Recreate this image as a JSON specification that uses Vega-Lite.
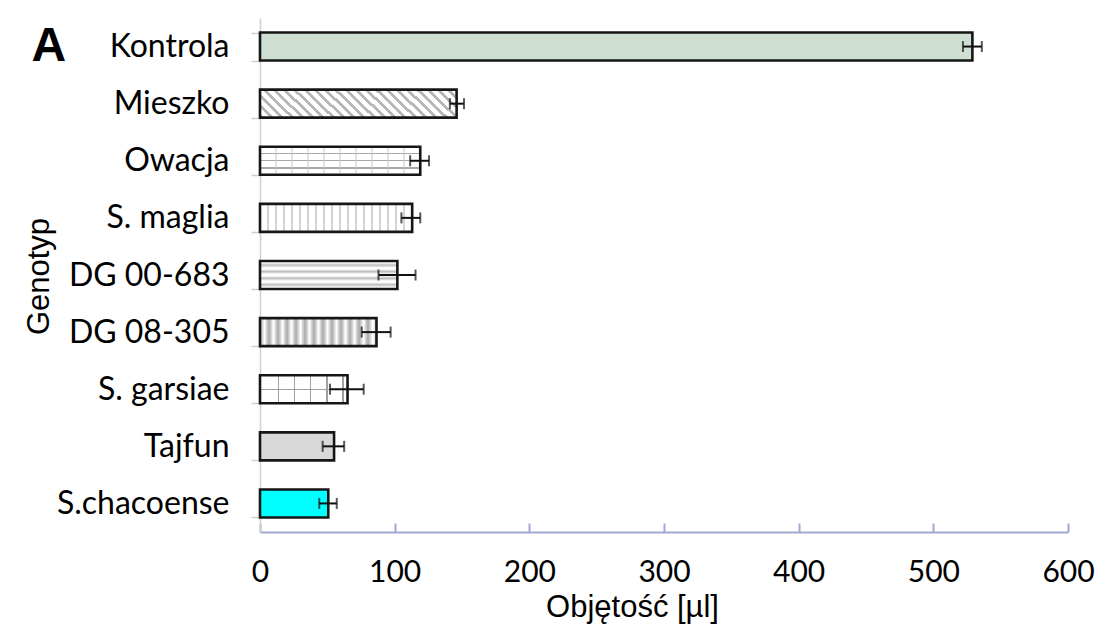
{
  "$schema": "https://vega.github.io/schema/vega-lite/v6.json",
  "width": 808,
  "height": 514,
  "autosize": {"type": "none"},
  "padding": {"left": 260, "top": 18, "right": 36, "bottom": 96},
  "background": "white",
  "config": {"view": {"stroke": null}},
  "data": {"values": [
    {"g": "Kontrola", "v": 529, "lo": 522, "hi": 536},
    {"g": "Mieszko", "v": 146, "lo": 141, "hi": 151.5},
    {"g": "Owacja", "v": 119, "lo": 111.5, "hi": 125.5},
    {"g": "S. maglia", "v": 113, "lo": 105, "hi": 119},
    {"g": "DG 00-683", "v": 102, "lo": 88, "hi": 115.5},
    {"g": "DG 08-305", "v": 86.5, "lo": 75.5, "hi": 97},
    {"g": "S. garsiae", "v": 65, "lo": 52, "hi": 77},
    {"g": "Tajfun", "v": 55, "lo": 46.5, "hi": 62.5},
    {"g": "S.chacoense", "v": 50.7, "lo": 44, "hi": 57}
  ]},
  "resolve": {"scale": {"x": "independent"}, "axis": {"x": "independent"}},
  "layer": [
  {
  "encoding": {
    "y": {"field": "g", "type": "nominal", "title": "Genotyp",
      "scale": {"domain": ["Kontrola", "Mieszko", "Owacja", "S. maglia", "DG 00-683", "DG 08-305", "S. garsiae", "Tajfun", "S.chacoense"], "paddingInner": 0.51, "paddingOuter": 0.255},
      "axis": {"domainColor": "#cfcfcf", "domainWidth": 1.5, "tickColor": "#cfcfcf", "tickWidth": 1.5, "tickSize": 9, "tickBand": "extent", "labelFont": "Lato", "labelFontSize": 32, "labelColor": "#000", "labelPadding": 22, "titleFont": "Liberation Sans", "titleFontSize": 31, "titleFontWeight": "normal", "titleColor": "#000", "titleX": -212, "titleY": 258, "titleBaseline": "alphabetic", "titleAngle": 270}},
    "x": {"field": "v", "type": "quantitative", "title": "Objętość [µl]",
      "scale": {"domain": [0, 600], "nice": false},
      "axis": {"values": [0, 100, 200, 300, 400, 500, 600], "domainColor": "#a3a8d3", "domainWidth": 2, "tickColor": "#a3a8d3", "tickWidth": 2, "tickSize": -9, "labelFont": "Lato", "labelFontSize": 30, "labelColor": "#000", "labelPadding": 58, "labelBaseline": "alphabetic", "labelFlush": false, "grid": false, "titleFont": "Liberation Sans", "titleFontSize": 31, "titleFontWeight": "normal", "titleColor": "#000", "titleX": 372, "titleY": 84, "titleBaseline": "alphabetic", "titleAlign": "center"}}
  },
  "layer": [
    {"mark": {"type": "bar"},
     "encoding": {"color": {"field": "g", "type": "nominal", "legend": null,
       "scale": {"domain": ["Kontrola", "Mieszko", "Owacja", "S. maglia", "DG 00-683", "DG 08-305", "S. garsiae", "Tajfun", "S.chacoense"],
                 "range": ["#cfe0d2", "#ffffff", "#ffffff", "#ffffff", "#ffffff", "#ffffff", "#ffffff", "#d9d9d9", "#00ffff"]}}}},
    {"transform": [{"filter": "datum.g === 'Mieszko'"}],
     "mark": {"type": "bar", "fill": {"gradient": "linear", "x1": 0, "y1": 1, "x2": 1.1234, "y2": 0.8337, "stops": [
       {"offset": 0, "color": "#b8b8b8"}, {"offset": 0.0182, "color": "#b8b8b8"}, {"offset": 0.0182, "color": "#ffffff"}, {"offset": 0.0455, "color": "#ffffff"},
       {"offset": 0.0455, "color": "#b8b8b8"}, {"offset": 0.0636, "color": "#b8b8b8"}, {"offset": 0.0636, "color": "#ffffff"}, {"offset": 0.0909, "color": "#ffffff"},
       {"offset": 0.0909, "color": "#b8b8b8"}, {"offset": 0.1091, "color": "#b8b8b8"}, {"offset": 0.1091, "color": "#ffffff"}, {"offset": 0.1364, "color": "#ffffff"},
       {"offset": 0.1364, "color": "#b8b8b8"}, {"offset": 0.1545, "color": "#b8b8b8"}, {"offset": 0.1545, "color": "#ffffff"}, {"offset": 0.1818, "color": "#ffffff"},
       {"offset": 0.1818, "color": "#b8b8b8"}, {"offset": 0.2, "color": "#b8b8b8"}, {"offset": 0.2, "color": "#ffffff"}, {"offset": 0.2273, "color": "#ffffff"},
       {"offset": 0.2273, "color": "#b8b8b8"}, {"offset": 0.2455, "color": "#b8b8b8"}, {"offset": 0.2455, "color": "#ffffff"}, {"offset": 0.2727, "color": "#ffffff"},
       {"offset": 0.2727, "color": "#b8b8b8"}, {"offset": 0.2909, "color": "#b8b8b8"}, {"offset": 0.2909, "color": "#ffffff"}, {"offset": 0.3182, "color": "#ffffff"},
       {"offset": 0.3182, "color": "#b8b8b8"}, {"offset": 0.3364, "color": "#b8b8b8"}, {"offset": 0.3364, "color": "#ffffff"}, {"offset": 0.3636, "color": "#ffffff"},
       {"offset": 0.3636, "color": "#b8b8b8"}, {"offset": 0.3818, "color": "#b8b8b8"}, {"offset": 0.3818, "color": "#ffffff"}, {"offset": 0.4091, "color": "#ffffff"},
       {"offset": 0.4091, "color": "#b8b8b8"}, {"offset": 0.4273, "color": "#b8b8b8"}, {"offset": 0.4273, "color": "#ffffff"}, {"offset": 0.4545, "color": "#ffffff"},
       {"offset": 0.4545, "color": "#b8b8b8"}, {"offset": 0.4727, "color": "#b8b8b8"}, {"offset": 0.4727, "color": "#ffffff"}, {"offset": 0.5, "color": "#ffffff"},
       {"offset": 0.5, "color": "#b8b8b8"}, {"offset": 0.5182, "color": "#b8b8b8"}, {"offset": 0.5182, "color": "#ffffff"}, {"offset": 0.5455, "color": "#ffffff"},
       {"offset": 0.5455, "color": "#b8b8b8"}, {"offset": 0.5636, "color": "#b8b8b8"}, {"offset": 0.5636, "color": "#ffffff"}, {"offset": 0.5909, "color": "#ffffff"},
       {"offset": 0.5909, "color": "#b8b8b8"}, {"offset": 0.6091, "color": "#b8b8b8"}, {"offset": 0.6091, "color": "#ffffff"}, {"offset": 0.6364, "color": "#ffffff"},
       {"offset": 0.6364, "color": "#b8b8b8"}, {"offset": 0.6545, "color": "#b8b8b8"}, {"offset": 0.6545, "color": "#ffffff"}, {"offset": 0.6818, "color": "#ffffff"},
       {"offset": 0.6818, "color": "#b8b8b8"}, {"offset": 0.7, "color": "#b8b8b8"}, {"offset": 0.7, "color": "#ffffff"}, {"offset": 0.7273, "color": "#ffffff"},
       {"offset": 0.7273, "color": "#b8b8b8"}, {"offset": 0.7455, "color": "#b8b8b8"}, {"offset": 0.7455, "color": "#ffffff"}, {"offset": 0.7727, "color": "#ffffff"},
       {"offset": 0.7727, "color": "#b8b8b8"}, {"offset": 0.7909, "color": "#b8b8b8"}, {"offset": 0.7909, "color": "#ffffff"}, {"offset": 0.8182, "color": "#ffffff"},
       {"offset": 0.8182, "color": "#b8b8b8"}, {"offset": 0.8364, "color": "#b8b8b8"}, {"offset": 0.8364, "color": "#ffffff"}, {"offset": 0.8636, "color": "#ffffff"},
       {"offset": 0.8636, "color": "#b8b8b8"}, {"offset": 0.8818, "color": "#b8b8b8"}, {"offset": 0.8818, "color": "#ffffff"}, {"offset": 0.9091, "color": "#ffffff"},
       {"offset": 0.9091, "color": "#b8b8b8"}, {"offset": 0.9273, "color": "#b8b8b8"}, {"offset": 0.9273, "color": "#ffffff"}, {"offset": 0.9545, "color": "#ffffff"},
       {"offset": 0.9545, "color": "#b8b8b8"}, {"offset": 0.9727, "color": "#b8b8b8"}, {"offset": 0.9727, "color": "#ffffff"}, {"offset": 1, "color": "#ffffff"}
     ]}}},
    {"transform": [{"filter": "datum.g === 'Owacja'"}],
     "mark": {"type": "bar", "fill": {"gradient": "linear", "x1": 0, "y1": 0, "x2": 0, "y2": 1, "stops": [
       {"offset": 0, "color": "#ffffff"}, {"offset": 0.215, "color": "#ffffff"}, {"offset": 0.215, "color": "#a8a8a8"}, {"offset": 0.265, "color": "#a8a8a8"}, {"offset": 0.265, "color": "#ffffff"},
       {"offset": 0.475, "color": "#ffffff"}, {"offset": 0.475, "color": "#a8a8a8"}, {"offset": 0.525, "color": "#a8a8a8"}, {"offset": 0.525, "color": "#ffffff"},
       {"offset": 0.735, "color": "#ffffff"}, {"offset": 0.735, "color": "#a8a8a8"}, {"offset": 0.785, "color": "#a8a8a8"}, {"offset": 0.785, "color": "#ffffff"}, {"offset": 1, "color": "#ffffff"}
     ]}}},
    {"transform": [{"filter": "datum.g === 'Owacja'"}],
     "mark": {"type": "bar", "fill": {"gradient": "linear", "x1": 0, "y1": 0, "x2": 1, "y2": 0, "stops": [
       {"offset": 0, "color": "rgba(255,255,255,0)"},
       {"offset": 0.0918, "color": "rgba(255,255,255,0)"}, {"offset": 0.0998, "color": "rgba(160,160,160,0.8)"}, {"offset": 0.1078, "color": "rgba(255,255,255,0)"},
       {"offset": 0.1916, "color": "rgba(255,255,255,0)"}, {"offset": 0.1996, "color": "rgba(160,160,160,0.8)"}, {"offset": 0.2076, "color": "rgba(255,255,255,0)"},
       {"offset": 0.2914, "color": "rgba(255,255,255,0)"}, {"offset": 0.2994, "color": "rgba(160,160,160,0.8)"}, {"offset": 0.3074, "color": "rgba(255,255,255,0)"},
       {"offset": 0.3912, "color": "rgba(255,255,255,0)"}, {"offset": 0.3992, "color": "rgba(160,160,160,0.8)"}, {"offset": 0.4072, "color": "rgba(255,255,255,0)"},
       {"offset": 0.491, "color": "rgba(255,255,255,0)"}, {"offset": 0.499, "color": "rgba(160,160,160,0.8)"}, {"offset": 0.507, "color": "rgba(255,255,255,0)"},
       {"offset": 0.5908, "color": "rgba(255,255,255,0)"}, {"offset": 0.5988, "color": "rgba(160,160,160,0.8)"}, {"offset": 0.6068, "color": "rgba(255,255,255,0)"},
       {"offset": 0.6906, "color": "rgba(255,255,255,0)"}, {"offset": 0.6986, "color": "rgba(160,160,160,0.8)"}, {"offset": 0.7066, "color": "rgba(255,255,255,0)"},
       {"offset": 0.7904, "color": "rgba(255,255,255,0)"}, {"offset": 0.7984, "color": "rgba(160,160,160,0.8)"}, {"offset": 0.8064, "color": "rgba(255,255,255,0)"},
       {"offset": 0.8902, "color": "rgba(255,255,255,0)"}, {"offset": 0.8982, "color": "rgba(160,160,160,0.8)"}, {"offset": 0.9062, "color": "rgba(255,255,255,0)"},
       {"offset": 1, "color": "rgba(255,255,255,0)"}
     ]}}},
    {"transform": [{"filter": "datum.g === 'S. maglia'"}],
     "mark": {"type": "bar", "fill": {"gradient": "linear", "x1": 0, "y1": 0, "x2": 1, "y2": 0, "stops": [
       {"offset": 0, "color": "#ffffff"},
       {"offset": 0.046, "color": "#ffffff"}, {"offset": 0.0526, "color": "#a8a8a8"}, {"offset": 0.0592, "color": "#ffffff"},
       {"offset": 0.0985, "color": "#ffffff"}, {"offset": 0.1051, "color": "#a8a8a8"}, {"offset": 0.1117, "color": "#ffffff"},
       {"offset": 0.1511, "color": "#ffffff"}, {"offset": 0.1577, "color": "#a8a8a8"}, {"offset": 0.1643, "color": "#ffffff"},
       {"offset": 0.2036, "color": "#ffffff"}, {"offset": 0.2102, "color": "#a8a8a8"}, {"offset": 0.2168, "color": "#ffffff"},
       {"offset": 0.2562, "color": "#ffffff"}, {"offset": 0.2628, "color": "#a8a8a8"}, {"offset": 0.2694, "color": "#ffffff"},
       {"offset": 0.3088, "color": "#ffffff"}, {"offset": 0.3154, "color": "#a8a8a8"}, {"offset": 0.322, "color": "#ffffff"},
       {"offset": 0.3613, "color": "#ffffff"}, {"offset": 0.3679, "color": "#a8a8a8"}, {"offset": 0.3745, "color": "#ffffff"},
       {"offset": 0.4139, "color": "#ffffff"}, {"offset": 0.4205, "color": "#a8a8a8"}, {"offset": 0.4271, "color": "#ffffff"},
       {"offset": 0.4664, "color": "#ffffff"}, {"offset": 0.473, "color": "#a8a8a8"}, {"offset": 0.4796, "color": "#ffffff"},
       {"offset": 0.519, "color": "#ffffff"}, {"offset": 0.5256, "color": "#a8a8a8"}, {"offset": 0.5322, "color": "#ffffff"},
       {"offset": 0.5716, "color": "#ffffff"}, {"offset": 0.5782, "color": "#a8a8a8"}, {"offset": 0.5848, "color": "#ffffff"},
       {"offset": 0.6241, "color": "#ffffff"}, {"offset": 0.6307, "color": "#a8a8a8"}, {"offset": 0.6373, "color": "#ffffff"},
       {"offset": 0.6767, "color": "#ffffff"}, {"offset": 0.6833, "color": "#a8a8a8"}, {"offset": 0.6899, "color": "#ffffff"},
       {"offset": 0.7292, "color": "#ffffff"}, {"offset": 0.7358, "color": "#a8a8a8"}, {"offset": 0.7424, "color": "#ffffff"},
       {"offset": 0.7818, "color": "#ffffff"}, {"offset": 0.7884, "color": "#a8a8a8"}, {"offset": 0.795, "color": "#ffffff"},
       {"offset": 0.8344, "color": "#ffffff"}, {"offset": 0.841, "color": "#a8a8a8"}, {"offset": 0.8476, "color": "#ffffff"},
       {"offset": 0.8869, "color": "#ffffff"}, {"offset": 0.8935, "color": "#a8a8a8"}, {"offset": 0.9001, "color": "#ffffff"},
       {"offset": 0.9395, "color": "#ffffff"}, {"offset": 0.9461, "color": "#a8a8a8"}, {"offset": 0.9527, "color": "#ffffff"},
       {"offset": 1, "color": "#ffffff"}
     ]}}},
    {"transform": [{"filter": "datum.g === 'DG 00-683'"}],
     "mark": {"type": "bar", "fill": {"gradient": "linear", "x1": 0, "y1": 0, "x2": 0, "y2": 1, "stops": [
       {"offset": 0, "color": "#ffffff"}, {"offset": 0.06, "color": "#ffffff"}, {"offset": 0.15, "color": "#bdbdbd"}, {"offset": 0.24, "color": "#ffffff"},
       {"offset": 0.29, "color": "#ffffff"}, {"offset": 0.38, "color": "#bdbdbd"}, {"offset": 0.47, "color": "#ffffff"},
       {"offset": 0.53, "color": "#ffffff"}, {"offset": 0.62, "color": "#bdbdbd"}, {"offset": 0.71, "color": "#ffffff"},
       {"offset": 0.76, "color": "#ffffff"}, {"offset": 0.85, "color": "#bdbdbd"}, {"offset": 0.94, "color": "#ffffff"}, {"offset": 1, "color": "#ffffff"}
     ]}}},
    {"transform": [{"filter": "datum.g === 'DG 08-305'"}],
     "mark": {"type": "bar", "fill": {"gradient": "linear", "x1": 0, "y1": 0, "x2": 1, "y2": 0, "stops": [
       {"offset": 0, "color": "#a8a8a8"}, {"offset": 0.0386, "color": "#ffffff"}, {"offset": 0.0773, "color": "#a8a8a8"}, {"offset": 0.1159, "color": "#ffffff"},
       {"offset": 0.1545, "color": "#a8a8a8"}, {"offset": 0.1932, "color": "#ffffff"}, {"offset": 0.2318, "color": "#a8a8a8"}, {"offset": 0.2704, "color": "#ffffff"},
       {"offset": 0.309, "color": "#a8a8a8"}, {"offset": 0.3477, "color": "#ffffff"}, {"offset": 0.3863, "color": "#a8a8a8"}, {"offset": 0.4249, "color": "#ffffff"},
       {"offset": 0.4636, "color": "#a8a8a8"}, {"offset": 0.5022, "color": "#ffffff"}, {"offset": 0.5408, "color": "#a8a8a8"}, {"offset": 0.5795, "color": "#ffffff"},
       {"offset": 0.6181, "color": "#a8a8a8"}, {"offset": 0.6567, "color": "#ffffff"}, {"offset": 0.6953, "color": "#a8a8a8"}, {"offset": 0.734, "color": "#ffffff"},
       {"offset": 0.7726, "color": "#a8a8a8"}, {"offset": 0.8112, "color": "#ffffff"}, {"offset": 0.8499, "color": "#a8a8a8"}, {"offset": 0.8885, "color": "#ffffff"},
       {"offset": 0.9271, "color": "#a8a8a8"}, {"offset": 0.9658, "color": "#ffffff"}, {"offset": 1, "color": "#d0d0d0"}
     ]}}},
    {"transform": [{"filter": "datum.g === 'S. garsiae'"}],
     "mark": {"type": "bar", "fill": {"gradient": "linear", "x1": 0, "y1": 0, "x2": 0, "y2": 1, "stops": [
       {"offset": 0, "color": "#ffffff"}, {"offset": 0.475, "color": "#ffffff"}, {"offset": 0.475, "color": "#a0a0a0"}, {"offset": 0.525, "color": "#a0a0a0"}, {"offset": 0.525, "color": "#ffffff"}, {"offset": 1, "color": "#ffffff"}
     ]}}},
    {"transform": [{"filter": "datum.g === 'S. garsiae'"}],
     "mark": {"type": "bar", "fill": {"gradient": "linear", "x1": 0, "y1": 0, "x2": 1, "y2": 0, "stops": [
       {"offset": 0, "color": "rgba(255,255,255,0)"},
       {"offset": 0.2, "color": "rgba(255,255,255,0)"}, {"offset": 0.2, "color": "#a0a0a0"}, {"offset": 0.218, "color": "#a0a0a0"}, {"offset": 0.218, "color": "rgba(255,255,255,0)"},
       {"offset": 0.385, "color": "rgba(255,255,255,0)"}, {"offset": 0.385, "color": "#a0a0a0"}, {"offset": 0.403, "color": "#a0a0a0"}, {"offset": 0.403, "color": "rgba(255,255,255,0)"},
       {"offset": 0.57, "color": "rgba(255,255,255,0)"}, {"offset": 0.57, "color": "#a0a0a0"}, {"offset": 0.588, "color": "#a0a0a0"}, {"offset": 0.588, "color": "rgba(255,255,255,0)"},
       {"offset": 0.756, "color": "rgba(255,255,255,0)"}, {"offset": 0.756, "color": "#a0a0a0"}, {"offset": 0.774, "color": "#a0a0a0"}, {"offset": 0.774, "color": "rgba(255,255,255,0)"},
       {"offset": 0.941, "color": "rgba(255,255,255,0)"}, {"offset": 0.941, "color": "#a0a0a0"}, {"offset": 0.959, "color": "#a0a0a0"}, {"offset": 0.959, "color": "rgba(255,255,255,0)"},
       {"offset": 1, "color": "rgba(255,255,255,0)"}
     ]}}},
    {"mark": {"type": "bar", "fillOpacity": 0, "stroke": "#161616", "strokeWidth": 2.6}},
    {"mark": {"type": "rule", "color": "#111", "strokeWidth": 2},
     "encoding": {"x": {"field": "lo", "type": "quantitative", "title": "Objętość [µl]"}, "x2": {"field": "hi"}}},
    {"mark": {"type": "tick", "color": "#111", "thickness": 2, "size": 11},
     "encoding": {"x": {"field": "lo", "type": "quantitative", "title": "Objętość [µl]"}}},
    {"mark": {"type": "tick", "color": "#111", "thickness": 2, "size": 11},
     "encoding": {"x": {"field": "hi", "type": "quantitative", "title": "Objętość [µl]"}}}
  ]
  },
  {"mark": {"type": "point", "opacity": 0},
   "encoding": {"x": {"field": "v", "type": "quantitative", "title": "A", "scale": {"domain": [0, 600], "nice": false},
     "axis": {"orient": "top", "domain": false, "ticks": false, "labels": false, "grid": false, "titleFont": "Liberation Sans", "titleFontSize": 48, "titleFontWeight": "bold", "titleColor": "#000", "titleX": -229, "titleY": 42, "titleAlign": "left", "titleBaseline": "alphabetic", "titleAngle": 0}}}}
  ]
}
